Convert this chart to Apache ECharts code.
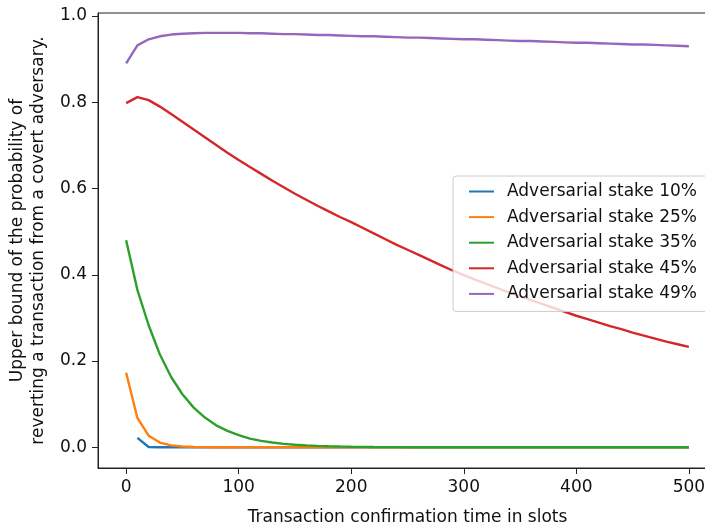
<!DOCTYPE html>
<html>
<head>
<meta charset="utf-8">
<script src="https://cdn.jsdelivr.net/npm/echarts@6/dist/echarts.min.js"></script>
<style>
  html, body { margin: 0; padding: 0; background: #fff; }
  #chart { width: 705px; height: 529px; }
</style>
</head>
<body>
<div id="chart"></div>
<script>
// confirmation time in slots (x)
const slots = [0, 10, 20, 30, 40, 50, 60, 70, 80, 90, 100, 110, 120, 130, 140, 150, 160, 170, 180, 190,
  200, 210, 220, 230, 240, 250, 260, 270, 280, 290, 300, 310, 320, 330, 340, 350, 360, 370, 380, 390,
  400, 410, 420, 430, 440, 450, 460, 470, 480, 490, 500];

const stake10 = [null, 0.022, 0.0008, 0.0001, 0, 0, 0, 0, 0, 0, 0, 0, 0, 0, 0, 0, 0, 0, 0, 0,
  0, 0, 0, 0, 0, 0, 0, 0, 0, 0, 0, 0, 0, 0, 0, 0, 0, 0, 0, 0,
  0, 0, 0, 0, 0, 0, 0, 0, 0, 0, 0];

const stake25 = [0.173, 0.068, 0.027, 0.011, 0.0045, 0.0018, 0.0007, 0.0003, 0.0001, 0, 0, 0, 0, 0, 0, 0, 0, 0, 0, 0,
  0, 0, 0, 0, 0, 0, 0, 0, 0, 0, 0, 0, 0, 0, 0, 0, 0, 0, 0, 0,
  0, 0, 0, 0, 0, 0, 0, 0, 0, 0, 0];

const stake35 = [0.480, 0.365, 0.283, 0.215, 0.163, 0.123, 0.092, 0.069, 0.051, 0.038, 0.028, 0.020, 0.015, 0.011, 0.008, 0.006, 0.0045, 0.0033, 0.0024, 0.0017,
  0.0012, 0.0009, 0.0006, 0.0004, 0.0003, 0.0002, 0.0001, 0, 0, 0, 0, 0, 0, 0, 0, 0, 0, 0, 0, 0,
  0, 0, 0, 0, 0, 0, 0, 0, 0, 0, 0];

const stake45 = [0.798, 0.812, 0.805, 0.790, 0.773, 0.755, 0.737, 0.719, 0.701, 0.683, 0.666, 0.650, 0.634, 0.618, 0.603, 0.588, 0.574, 0.560, 0.547, 0.534,
  0.522, 0.509, 0.496, 0.483, 0.470, 0.458, 0.446, 0.434, 0.422, 0.410, 0.399, 0.389, 0.379, 0.369, 0.359, 0.350, 0.341, 0.332, 0.323, 0.314,
  0.305, 0.297, 0.289, 0.281, 0.274, 0.266, 0.259, 0.252, 0.245, 0.239, 0.233];

const stake49 = [0.890, 0.932, 0.946, 0.953, 0.957, 0.959, 0.960, 0.961, 0.961, 0.961, 0.961, 0.960, 0.960, 0.959, 0.958, 0.958, 0.957, 0.956, 0.956, 0.955,
  0.954, 0.953, 0.953, 0.952, 0.951, 0.950, 0.950, 0.949, 0.948, 0.947, 0.946, 0.946, 0.945, 0.944, 0.943, 0.942, 0.942, 0.941, 0.940, 0.939,
  0.938, 0.938, 0.937, 0.936, 0.935, 0.934, 0.934, 0.933, 0.932, 0.931, 0.930];

const seriesNames = ['Adversarial stake 10%', 'Adversarial stake 25%', 'Adversarial stake 35%',
  'Adversarial stake 45%', 'Adversarial stake 49%'];
const seriesValues = [stake10, stake25, stake35, stake45, stake49];
const colors = ['#1f77b4', '#ff7f0e', '#2ca02c', '#d62728', '#9467bd'];

const xTicks = [0, 100, 200, 300, 400, 500];
const yTicks = [0, 0.2, 0.4, 0.6, 0.8, 1.0];

const font = 'DejaVu Sans';
const textColor = '#111';
const fontSize = 17;

const chart = echarts.init(document.getElementById('chart'));

const series = seriesValues.map((vals, i) => ({
  name: seriesNames[i],
  type: 'line',
  data: slots.map((s, j) => [s, vals[j]]),
  showSymbol: false,
  color: colors[i],
  lineStyle: { width: 2.4, color: colors[i] },
  emphasis: { disabled: true }
}));

chart.setOption({
  animation: false,
  backgroundColor: '#fff',
  grid: {
    left: 98,
    top: 13,
    width: 619,
    height: 455,
    show: true,
    borderColor: '#222',
    borderWidth: 1,
    containLabel: false,
    outerBoundsMode: 'none'
  },
  xAxis: {
    type: 'value',
    min: -25,
    max: 525,
    name: 'Transaction confirmation time in slots',
    nameLocation: 'middle',
    nameGap: 41,
    nameTextStyle: { fontFamily: font, fontSize: fontSize, color: textColor },
    axisLine: { show: true, onZero: false, lineStyle: { color: '#222', width: 1 } },
    axisTick: { show: true, length: 6, lineStyle: { color: '#222' }, customValues: xTicks },
    axisLabel: { fontFamily: font, fontSize: fontSize, color: textColor, margin: 11, customValues: xTicks },
    splitLine: { show: false }
  },
  yAxis: {
    type: 'value',
    min: -0.048,
    max: 1.007,
    name: 'Upper bound of the probability of\nreverting a transaction from a covert adversary.',
    nameLocation: 'middle',
    nameRotate: 90,
    nameGap: 43,
    nameTextStyle: { fontFamily: font, fontSize: fontSize, color: textColor, lineHeight: 21 },
    axisLine: { show: true, onZero: false, lineStyle: { color: '#222', width: 1 } },
    axisTick: { show: true, length: 6, lineStyle: { color: '#222' }, customValues: yTicks },
    axisLabel: {
      fontFamily: font, fontSize: fontSize, color: textColor, margin: 11,
      customValues: yTicks,
      formatter: v => v.toFixed(1)
    },
    splitLine: { show: false }
  },
  legend: {
    orient: 'vertical',
    left: 453,
    top: 176,
    padding: [6, 12, 8, 16],
    itemWidth: 25,
    itemHeight: 2,
    itemGap: 6.6,
    icon: 'rect',
    backgroundColor: 'rgba(255,255,255,0.8)',
    borderColor: '#cccccc',
    borderWidth: 1,
    borderRadius: 3,
    textStyle: { fontFamily: font, fontSize: fontSize, color: textColor, lineHeight: 19, padding: [0, 0, 0, 8] },
    data: seriesNames
  },
  series: series
});
</script>
</body>
</html>
